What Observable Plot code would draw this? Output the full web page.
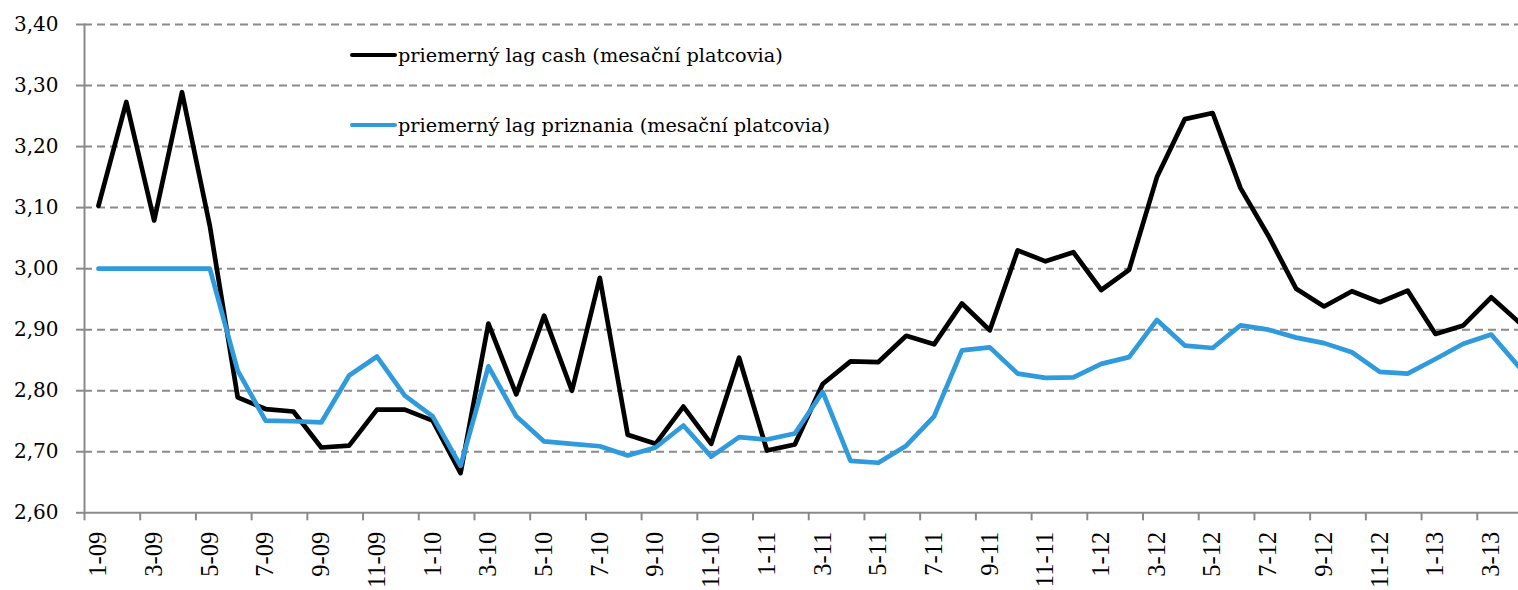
<!DOCTYPE html>
<html>
<head>
<meta charset="utf-8">
<script src="https://cdn.jsdelivr.net/npm/d3@7"></script>
<script src="https://cdn.jsdelivr.net/npm/@observablehq/plot@0.6"></script>
<style>
  html, body { margin: 0; padding: 0; background: #fff; }
  #wrap { position: relative; width: 1518px; height: 590px; overflow: hidden; }
  #legend { position: absolute; left: 350px; top: 40px; font-family: "DejaVu Serif", serif; font-size: 19.3px; color: #000; }
  .item { display: flex; align-items: center; height: 30px; white-space: nowrap; }
  .item + .item { margin-top: 40px; }
  .sw { display: inline-block; width: 47px; height: 4.7px; border-radius: 2.5px; margin-right: 1px; }
</style>
</head>
<body>
<div id="wrap"><div id="legend"></div></div>
<script>
const months = ["1-09","2-09","3-09","4-09","5-09","6-09","7-09","8-09","9-09","10-09","11-09","12-09",
  "1-10","2-10","3-10","4-10","5-10","6-10","7-10","8-10","9-10","10-10","11-10","12-10",
  "1-11","2-11","3-11","4-11","5-11","6-11","7-11","8-11","9-11","10-11","11-11","12-11",
  "1-12","2-12","3-12","4-12","5-12","6-12","7-12","8-12","9-12","10-12","11-12","12-12",
  "1-13","2-13","3-13","4-13"];
const cash = [3.103,3.273,3.079,3.289,3.07,2.789,2.770,2.766,2.707,2.710,2.769,2.769,
  2.751,2.665,2.910,2.794,2.923,2.800,2.985,2.728,2.713,2.774,2.713,2.854,
  2.702,2.712,2.811,2.848,2.847,2.890,2.876,2.943,2.899,3.030,3.012,3.027,
  2.965,2.998,3.150,3.245,3.255,3.132,3.054,2.967,2.938,2.963,2.945,2.964,
  2.893,2.907,2.953,2.912];
const priznania = [3.00,3.00,3.00,3.00,3.00,2.833,2.751,2.750,2.748,2.825,2.856,2.792,
  2.758,2.677,2.840,2.758,2.717,2.713,2.709,2.694,2.707,2.743,2.692,2.724,
  2.720,2.730,2.798,2.685,2.682,2.710,2.758,2.866,2.871,2.828,2.821,2.822,
  2.844,2.855,2.916,2.874,2.870,2.907,2.900,2.887,2.878,2.863,2.831,2.828,
  2.852,2.877,2.892,2.839];
const seriesNames = ["priemerný lag cash (mesační platcovia)", "priemerný lag priznania (mesační platcovia)"];
const seriesColors = ["#000000", "#2f9bdc"];
const yTicks = [2.6, 2.7, 2.8, 2.9, 3.0, 3.1, 3.2, 3.3, 3.4];

const idx = months.map((_, i) => i);
const labelIdx = idx.filter(i => i % 2 === 0);
const boundaries = labelIdx.map(i => i - 0.5);
const rows = [
  ...cash.map((v, i) => ({i, v, s: seriesNames[0]})),
  ...priznania.map((v, i) => ({i, v, s: seriesNames[1]}))
];
const fmt = v => d3.format(".2f")(v).replace(".", ",");
const gray = "#8a8a8a";

const chart = Plot.plot({
  width: 1518,
  height: 590,
  marginLeft: 84,
  marginRight: 0,
  marginTop: 24,
  marginBottom: 77.7,
  style: {background: "transparent", overflow: "visible"},
  x: {type: "linear", domain: [-0.5, 50.98], axis: null},
  y: {domain: [2.6, 3.4], axis: null},
  color: {domain: seriesNames, range: seriesColors},
  marks: [
    Plot.ruleY(yTicks.filter(t => t > 2.6), {stroke: gray, strokeWidth: 2, strokeDasharray: "8,5"}),
    Plot.axisY({ticks: yTicks, tickFormat: fmt, tickSize: 8, tickPadding: 18, stroke: gray, strokeWidth: 2,
      fontSize: 20, fontFamily: "DejaVu Serif", fill: "#000", label: null}),
    Plot.ruleY([2.6], {stroke: gray, strokeWidth: 2}),
    Plot.axisX({ticks: boundaries, tickFormat: () => "", tickSize: 8, stroke: gray, strokeWidth: 2, label: null}),
    Plot.frame({anchor: "left", stroke: gray, strokeWidth: 2}),
    Plot.text(labelIdx, {x: d => d, text: d => months[d], frameAnchor: "bottom", dy: 19, rotate: -90,
      textAnchor: "end", lineAnchor: "middle", fontSize: 24.5, fontFamily: "Liberation Serif", fill: "#000"}),
    Plot.line(rows, {x: "i", y: "v", z: "s", stroke: "s", strokeWidth: 4.7, strokeLinejoin: "round", strokeLinecap: "round"})
  ]
});
document.getElementById("wrap").prepend(chart);

const legend = document.getElementById("legend");
seriesNames.forEach((name, k) => {
  const item = document.createElement("div");
  item.className = "item";
  const sw = document.createElement("span");
  sw.className = "sw";
  sw.style.background = seriesColors[k];
  item.appendChild(sw);
  item.appendChild(document.createTextNode(name));
  legend.appendChild(item);
});
</script>
</body>
</html>
